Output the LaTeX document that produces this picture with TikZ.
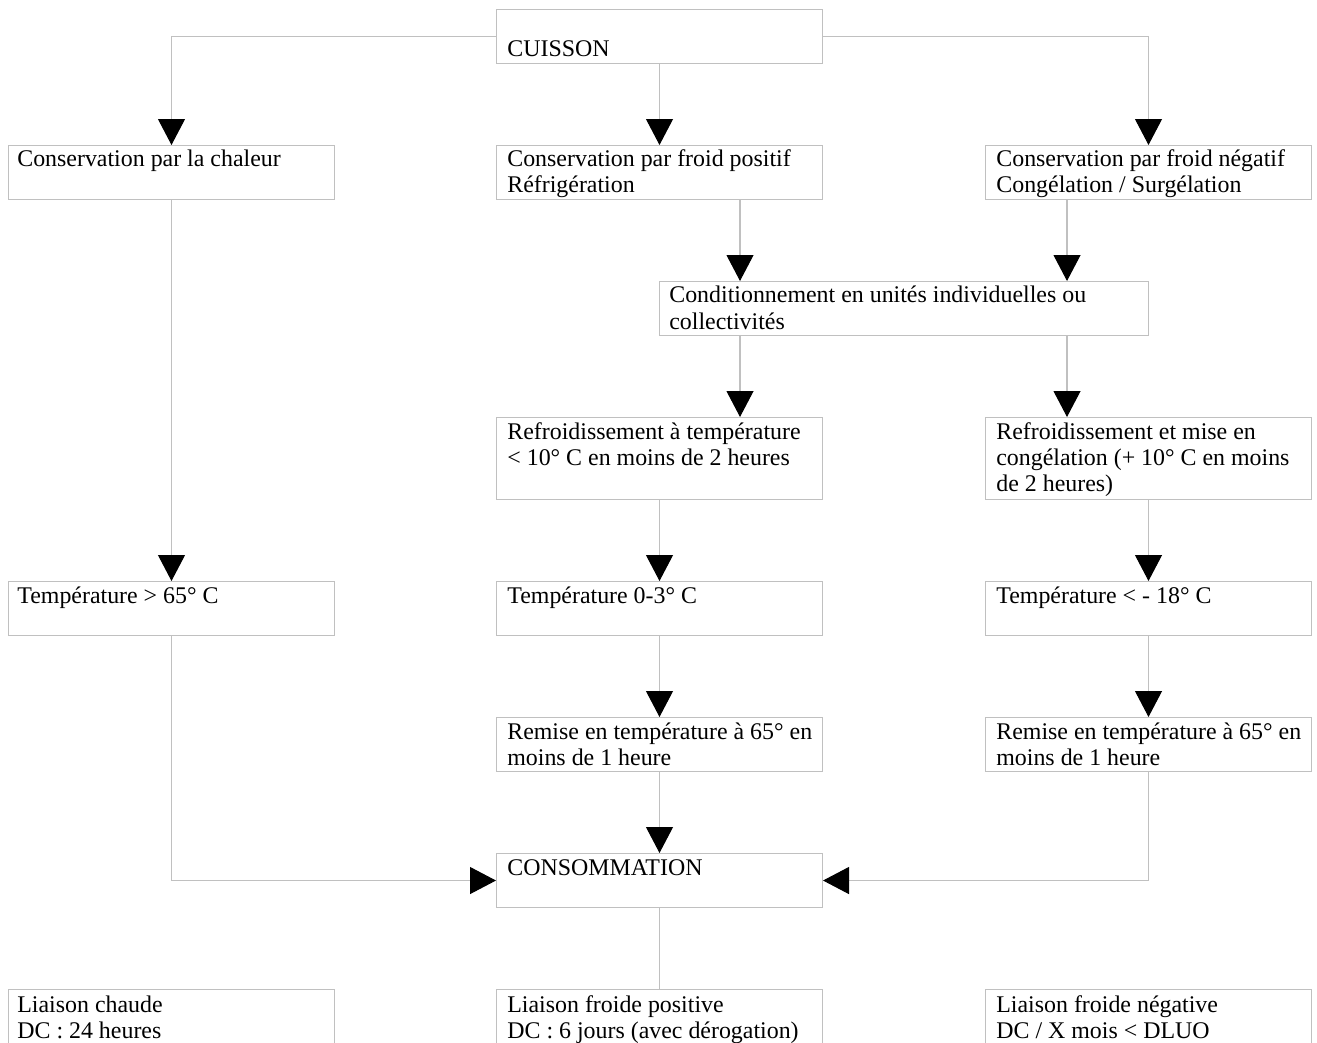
\documentclass[tikz,border=0pt]{standalone}
\usepackage{fontspec}
\setmainfont{Liberation Serif}
\usetikzlibrary{arrows.meta}
\definecolor{lg}{HTML}{C0C0C0}
\newcommand\boxtext[1]{\parbox[t]{10cm}{#1}}
\begin{document}
\begin{tikzpicture}[x=0.02cm,y=-0.02cm,
 rect/.style={draw=lg, line width=0.6pt, anchor=north west, inner sep=0, minimum width=6.52cm, minimum height=1.08cm},
 txt/.style={anchor=base west, inner sep=0, font=\fontsize{13.6}{14.8}\selectfont},
 conn/.style={draw=lg, line width=0.6pt, -{Triangle[width=0.54cm,length=0.52cm,color=black,fill=black]}},
 plain/.style={draw=lg, line width=0.6pt}]
\clip (0,0) rectangle (1317,1043);
\fill[white] (0,0) rectangle (1317,1043);
% boxes
\node[rect] (cuis) at (496,9) {};
\node[rect] (chal) at (8,145) {};
\node[rect] (frp) at (496,145) {};
\node[rect] (frn) at (985,145) {};
\node[rect, minimum width=9.78cm] (cond) at (659,281) {};
\node[rect, minimum height=1.64cm] (refp) at (496,417) {};
\node[rect, minimum height=1.64cm] (refn) at (985,417) {};
\node[rect] (tchal) at (8,581) {};
\node[rect] (tfrp) at (496,581) {};
\node[rect] (tfrn) at (985,581) {};
\node[rect] (remp) at (496,717) {};
\node[rect] (remn) at (985,717) {};
\node[rect] (cons) at (496,853) {};
\node[rect, minimum height=1.3cm] (lch) at (8,989) {};
\node[rect, minimum height=1.3cm] (lfp) at (496,989) {};
\node[rect, minimum height=1.3cm] (lfn) at (985,989) {};
% texts
\node[txt] (cuis-t) at (507,57) {\boxtext{CUISSON}};
\node[txt] (chal-t) at (17,167) {\boxtext{Conservation par la chaleur}};
\node[txt] (frp-t) at (507,167) {\boxtext{Conservation par froid positif\\Réfrigération}};
\node[txt] (frn-t) at (996,167) {\boxtext{Conservation par froid négatif\\Congélation / Surgélation}};
\node[txt] (cond-t) at (669,303) {\boxtext{Conditionnement en unités individuelles ou\\collectivités}};
\node[txt] (refp-t) at (507,439) {\boxtext{Refroidissement à température\\< 10° C en moins de 2 heures}};
\node[txt] (refn-t) at (996,439) {\boxtext{Refroidissement et mise en\\congélation (+ 10° C en moins\\de 2 heures)}};
\node[txt] (tchal-t) at (17,603) {\boxtext{Température > 65° C}};
\node[txt] (tfrp-t) at (507,603) {\boxtext{Température 0-3° C}};
\node[txt] (tfrn-t) at (996,603) {\boxtext{Température < - 18° C}};
\node[txt] (remp-t) at (507,739) {\boxtext{Remise en température à 65° en\\moins de 1 heure}};
\node[txt] (remn-t) at (996,739) {\boxtext{Remise en température à 65° en\\moins de 1 heure}};
\node[txt] (cons-t) at (507,875) {\boxtext{CONSOMMATION}};
\node[txt] (lch-t) at (17,1012) {\boxtext{Liaison chaude\\DC : 24 heures}};
\node[txt] (lfp-t) at (507,1012) {\boxtext{Liaison froide positive\\DC : 6 jours (avec dérogation)}};
\node[txt] (lfn-t) at (996,1012) {\boxtext{Liaison froide négative\\DC / X mois < DLUO}};
% connectors
\coordinate (xa) at (740,0);
\coordinate (xb) at (1067,0);
\draw[conn] (cuis.west) -| (chal.north);
\draw[conn] (cuis.east) -| (frn.north);
\draw[conn] (cuis.south) -- (frp.north);
\draw[conn] (xa |- frp.south) -- (xa |- cond.north);
\draw[conn] (xb |- frn.south) -- (xb |- cond.north);
\draw[conn] (xa |- cond.south) -- (xa |- refp.north);
\draw[conn] (xb |- cond.south) -- (xb |- refn.north);
\draw[conn] (chal.south) -- (tchal.north);
\draw[conn] (refp.south) -- (tfrp.north);
\draw[conn] (refn.south) -- (tfrn.north);
\draw[conn] (tfrp.south) -- (remp.north);
\draw[conn] (tfrn.south) -- (remn.north);
\draw[conn] (remp.south) -- (cons.north);
\draw[conn] (tchal.south) |- (cons.west);
\draw[conn] (remn.south) |- (cons.east);
\draw[plain] (cons.south) -- (lfp.north);
\end{tikzpicture}
\end{document}
